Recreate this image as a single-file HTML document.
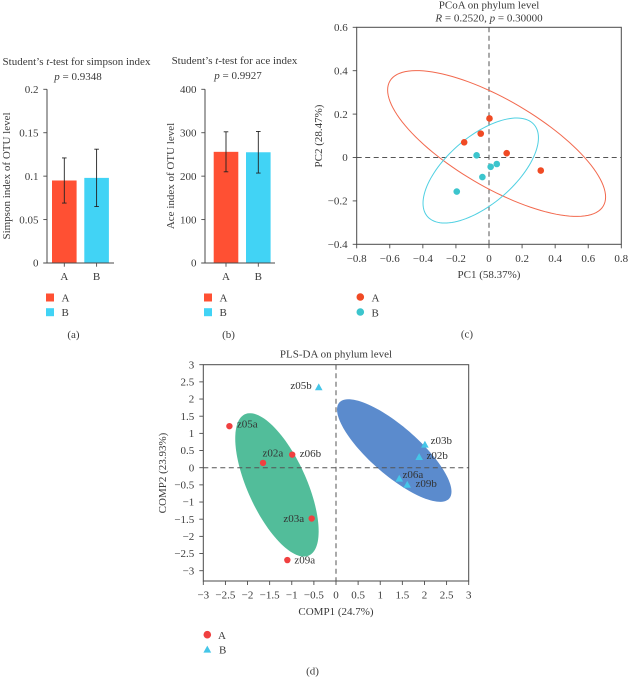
<!DOCTYPE html>
<html lang="en">
<head>
<meta charset="utf-8">
<title>Phylum level diversity charts</title>
<style>
  html, body { margin: 0; padding: 0; background: #fff; }
  svg { display: block; width: 628px; height: 677px; filter: blur(0.3px); }
  text { font-family: "Liberation Serif", serif; font-size: 11px; fill: #3a3a3a; }
</style>
</head>
<body>
<svg id="figure" xmlns="http://www.w3.org/2000/svg" width="628" height="677" viewBox="0 0 628 677">
  <text x="76.5" y="65" text-anchor="middle">Student’s <tspan font-style="italic">t</tspan>-test for simpson index</text>
  <text x="78" y="80" text-anchor="middle"><tspan font-style="italic">p</tspan> = 0.9348</text>
  <text transform="translate(10,176) rotate(-90)" text-anchor="middle">Simpson index of OTU level</text>
  <text x="73.5" y="338" text-anchor="middle">(a)</text>

  <text x="234.5" y="64" text-anchor="middle">Student’s <tspan font-style="italic">t</tspan>-test for ace index</text>
  <text x="238" y="79" text-anchor="middle"><tspan font-style="italic">p</tspan> = 0.9927</text>
  <text transform="translate(174,176) rotate(-90)" text-anchor="middle">Ace index of OTU level</text>
  <text x="228.5" y="338" text-anchor="middle">(b)</text>

  <text x="489" y="8.5" text-anchor="middle">PCoA on phylum level</text>
  <text x="489" y="21.5" text-anchor="middle"><tspan font-style="italic">R</tspan> = 0.2520, <tspan font-style="italic">p</tspan> = 0.30000</text>
  <text x="489" y="278" text-anchor="middle">PC1 (58.37%)</text>
  <text transform="translate(322,136) rotate(-90)" text-anchor="middle">PC2 (28.47%)</text>
  <text x="467" y="337.5" text-anchor="middle">(c)</text>

  <text x="336" y="357.7" text-anchor="middle">PLS-DA on phylum level</text>
  <text x="336" y="615" text-anchor="middle">COMP1 (24.7%)</text>
  <text transform="translate(166,473) rotate(-90)" text-anchor="middle">COMP2 (23.93%)</text>
  <text x="312.5" y="674.5" text-anchor="middle">(d)</text>
</svg>
<script>
// ---- Panel (a) data ----
const barCategories = ['A', 'B'];
const simpsonMeans = [0.095, 0.098];
const simpsonErrors = [0.026, 0.033];
const simpsonTicks = [0, 0.05, 0.1, 0.15, 0.2];
// ---- Panel (b) data ----
const aceMeans = [256, 255];
const aceErrors = [46, 48];
const aceTicks = [0, 100, 200, 300, 400];
// ---- Panel (c) data ----
const pcoaAx = [-0.15, -0.05, 0.003, 0.107, 0.313];
const pcoaAy = [0.07, 0.11, 0.18, 0.02, -0.06];
const pcoaBx = [-0.195, -0.075, -0.04, 0.01, 0.047];
const pcoaBy = [-0.157, 0.01, -0.09, -0.043, -0.03];
const pcoaXTicks = [-0.8, -0.6, -0.4, -0.2, 0, 0.2, 0.4, 0.6, 0.8];
const pcoaYTicks = [-0.4, -0.2, 0, 0.2, 0.4, 0.6];
const pcoaEllipseA = [0.046, 0.0645, 0.659, 0.336, -0.734];
const pcoaEllipseB = [-0.05, -0.06, 0.349, 0.242, 0.623];
// ---- Panel (d) data ----
const plsAnames = ['z05a', 'z02a', 'z06b', 'z03a', 'z09a'];
const plsAx = [-2.41, -1.65, -0.99, -0.55, -1.10];
const plsAy = [1.21, 0.14, 0.38, -1.48, -2.69];
const plsBnames = ['z05b', 'z03b', 'z02b', 'z06a', 'z09b'];
const plsBx = [-0.39, 2.01, 1.88, 1.43, 1.61];
const plsBy = [2.35, 0.68, 0.32, -0.31, -0.49];
const plsXTicks = [-3, -2.5, -2, -1.5, -1, -0.5, 0, 0.5, 1, 1.5, 2, 2.5, 3];
const plsYTicks = [-3, -2.5, -2, -1.5, -1, -0.5, 0, 0.5, 1, 1.5, 2, 2.5, 3];
const plsEllipseA = [-1.335, -0.50, 0.943, 2.088, -0.647];
const plsEllipseB = [1.317, 0.50, 1.294, 1.494, -0.80];

const svg = document.getElementById('figure');
const NS = 'http://www.w3.org/2000/svg';
const AXIS = '#4a4a4a';

function linear(d0, d1, r0, r1) {
  return v => r0 + (v - d0) / (d1 - d0) * (r1 - r0);
}
function mk(tag, attrs, text) {
  const el = document.createElementNS(NS, tag);
  for (const k in attrs) el.setAttribute(k, attrs[k]);
  if (text !== undefined) el.textContent = text;
  svg.appendChild(el);
  return el;
}
function fmt(v) {
  return v < 0 ? '\u2212' + Math.abs(v) : String(v);
}
function line(x1, y1, x2, y2, stroke, width, dash) {
  const a = { x1: x1, y1: y1, x2: x2, y2: y2, stroke: stroke, 'stroke-width': width };
  if (dash) a['stroke-dasharray'] = dash;
  return mk('line', a);
}
function ellipsePath(p, sx, sy) {
  const r = p[4], q = Math.sqrt(1 - r * r);
  let d = '';
  for (let i = 0; i <= 120; i++) {
    const t = i / 120 * 2 * Math.PI;
    const x = p[0] + p[2] * Math.cos(t);
    const y = p[1] + p[3] * (r * Math.cos(t) + q * Math.sin(t));
    d += (i ? 'L' : 'M') + sx(x).toFixed(2) + ' ' + sy(y).toFixed(2);
  }
  return d + 'Z';
}
function triPoints(cx, cy, s) {
  return (cx - s) + ',' + (cy + s * 0.85) + ' ' + (cx + s) + ',' + (cy + s * 0.85) + ' ' + cx + ',' + (cy - s * 0.95);
}

// ---- Bar panels ----
function barPanel(key, means, errors, ticks, left, right, barStart, top, bottom) {
  const sy = linear(ticks[0], ticks[ticks.length - 1], bottom, top);
  const barW = 24.6, step = 32.3, colors = ['#ff5033', '#41d3f5'];
  means.forEach((m, i) => {
    const bx = barStart + i * step;
    const bar = mk('rect', { x: bx, y: sy(m), width: barW, height: bottom - sy(m), fill: colors[i] });
    
    
    const cx = bx + barW / 2;
    const hi = sy(m + errors[i]), lo = sy(m - errors[i]);
    const err = mk('path', {
      d: 'M' + cx + ' ' + hi + 'V' + lo + 'M' + (cx - 2.3) + ' ' + hi + 'H' + (cx + 2.3) + 'M' + (cx - 2.3) + ' ' + lo + 'H' + (cx + 2.3),
      stroke: '#222', 'stroke-width': 0.9, fill: 'none'
    });
    
    
    line(cx, bottom, cx, bottom + 3.7, AXIS, 0.9);
    const lab = mk('text', { x: cx, y: bottom + 17, 'text-anchor': 'middle' }, barCategories[i]);
    
    
  });
  const yAxis = line(left, top, left, bottom, AXIS, 1);
  
  
  const xAxis = line(left - 3.7, bottom, right, bottom, AXIS, 1);
  
  
  ticks.forEach(t => {
    line(left - 3.7, sy(t), left, sy(t), AXIS, 0.9);
    const lab = mk('text', { x: left - 8.5, y: sy(t) + 3.7, 'text-anchor': 'end' }, fmt(t));
    
    
  });
  barCategories.forEach((c, i) => {
    const ly = 297.5 + i * 14.7;
    const sw = mk('rect', { x: left - 1, y: ly - 4, width: 8, height: 8, fill: colors[i] });
    
    
    const lb = mk('text', { x: left + 14.5, y: ly + 4 }, c);
    
    
  });
}
barPanel('simpson', simpsonMeans, simpsonErrors, simpsonTicks, 47, 114, 52, 89.3, 263);
barPanel('ace', aceMeans, aceErrors, aceTicks, 205, 275, 213.7, 89.3, 263);

// ---- Frame helper for scatter panels ----
function frame(key, sx, sy, xTicks, yTicks, box, labelOffset) {
  const f = mk('rect', { x: box[0], y: box[1], width: box[2] - box[0], height: box[3] - box[1], fill: 'none', stroke: AXIS, 'stroke-width': 1 });
  
  
  xTicks.forEach(t => {
    line(sx(t), box[3], sx(t), box[3] + 4, AXIS, 0.9);
    const lab = mk('text', { x: sx(t), y: box[3] + labelOffset, 'text-anchor': 'middle' }, fmt(t));
    
    
  });
  yTicks.forEach(t => {
    line(box[0] - 4, sy(t), box[0], sy(t), AXIS, 0.9);
    const lab = mk('text', { x: box[0] - 9, y: sy(t) + 3.7, 'text-anchor': 'end' }, fmt(t));
    
    
  });
}
function zeroLines(key, sx, sy, box) {
  const h = line(box[0], sy(0), box[2], sy(0), '#555', 1, '5 3.5');
  
  
  const v = line(sx(0), box[1], sx(0), box[3], '#555', 1, '5 3.5');
  
  
}

// ---- Panel (c) ----
const cBox = [356.7, 27.3, 621.3, 244.3];
const cx = linear(-0.8, 0.8, cBox[0], cBox[2]);
const cy = linear(-0.4, 0.6, cBox[3], cBox[1]);
zeroLines('pcoa', cx, cy, cBox);
frame('pcoa', cx, cy, pcoaXTicks, pcoaYTicks, cBox, 17.5);
const ecA = mk('path', { d: ellipsePath(pcoaEllipseA, cx, cy), fill: 'none', stroke: '#f2694e', 'stroke-width': 1 });


const ecB = mk('path', { d: ellipsePath(pcoaEllipseB, cx, cy), fill: 'none', stroke: '#4fd0e2', 'stroke-width': 1 });


pcoaAx.forEach((x, i) => {
  const p = mk('circle', { cx: cx(x), cy: cy(pcoaAy[i]), r: 3.3, fill: '#f04a24' });
  
  
});
pcoaBx.forEach((x, i) => {
  const p = mk('circle', { cx: cx(x), cy: cy(pcoaBy[i]), r: 3.3, fill: '#3cc5cd' });
  
  
});
['#f04a24', '#3cc5cd'].forEach((col, i) => {
  const ly = 297 + i * 15;
  const m = mk('circle', { cx: 360.3, cy: ly, r: 3.8, fill: col });
  
  
  const t = mk('text', { x: 371.5, y: ly + 4.5 }, barCategories[i]);
  
  
});

// ---- Panel (d) ----
const dBox = [203.3, 364.7, 468.7, 581];
const dx = linear(-3, 3, dBox[0], dBox[2]);
const dy = linear(-3, 3, 570.7, 364.7);
const edA = mk('path', { d: ellipsePath(plsEllipseA, dx, dy), fill: '#52bd9a', stroke: 'none' });


const edB = mk('path', { d: ellipsePath(plsEllipseB, dx, dy), fill: '#5b8bcd', stroke: 'none' });


zeroLines('pls', dx, dy, dBox);
frame('pls', dx, dy, plsXTicks, plsYTicks, dBox, 17.5);

// Label placement relative to each point, keyed by sample name.
const labelPlace = {
  z05a: ['start', 7.5, 1.5], z02a: ['start', -0.5, -6.5], z06b: ['start', 7.5, 2.5],
  z03a: ['end', -7.5, 3.5], z09a: ['start', 7, 3.5], z05b: ['end', -7, 2],
  z03b: ['start', 5.7, -0.5], z02b: ['start', 7.3, 2.3], z06a: ['start', 3.3, -0.5], z09b: ['start', 8.3, 2.3]
};
function plsLabel(name, px, py) {
  const pl = labelPlace[name];
  const t = mk('text', { x: px + pl[1], y: py + pl[2], 'text-anchor': pl[0], style: 'fill:#333' }, name);
  
  
}
plsAx.forEach((x, i) => {
  const px = dx(x), py = dy(plsAy[i]);
  const p = mk('circle', { cx: px, cy: py, r: 3.2, fill: '#f04040' });
  
  
  plsLabel(plsAnames[i], px, py);
});
plsBx.forEach((x, i) => {
  const px = dx(x), py = dy(plsBy[i]);
  const p = mk('polygon', { points: triPoints(px, py, 3.8), fill: '#45c6e8' });
  
  
  plsLabel(plsBnames[i], px, py);
});
const legA = mk('circle', { cx: 207.3, cy: 634.7, r: 3.8, fill: '#f04040' });


const legB = mk('polygon', { points: triPoints(207.3, 649.3, 3.9), fill: '#45c6e8' });


const legAt = mk('text', { x: 218, y: 639 }, 'A');


const legBt = mk('text', { x: 219, y: 653.5 }, 'B');


</script>
</body>
</html>
